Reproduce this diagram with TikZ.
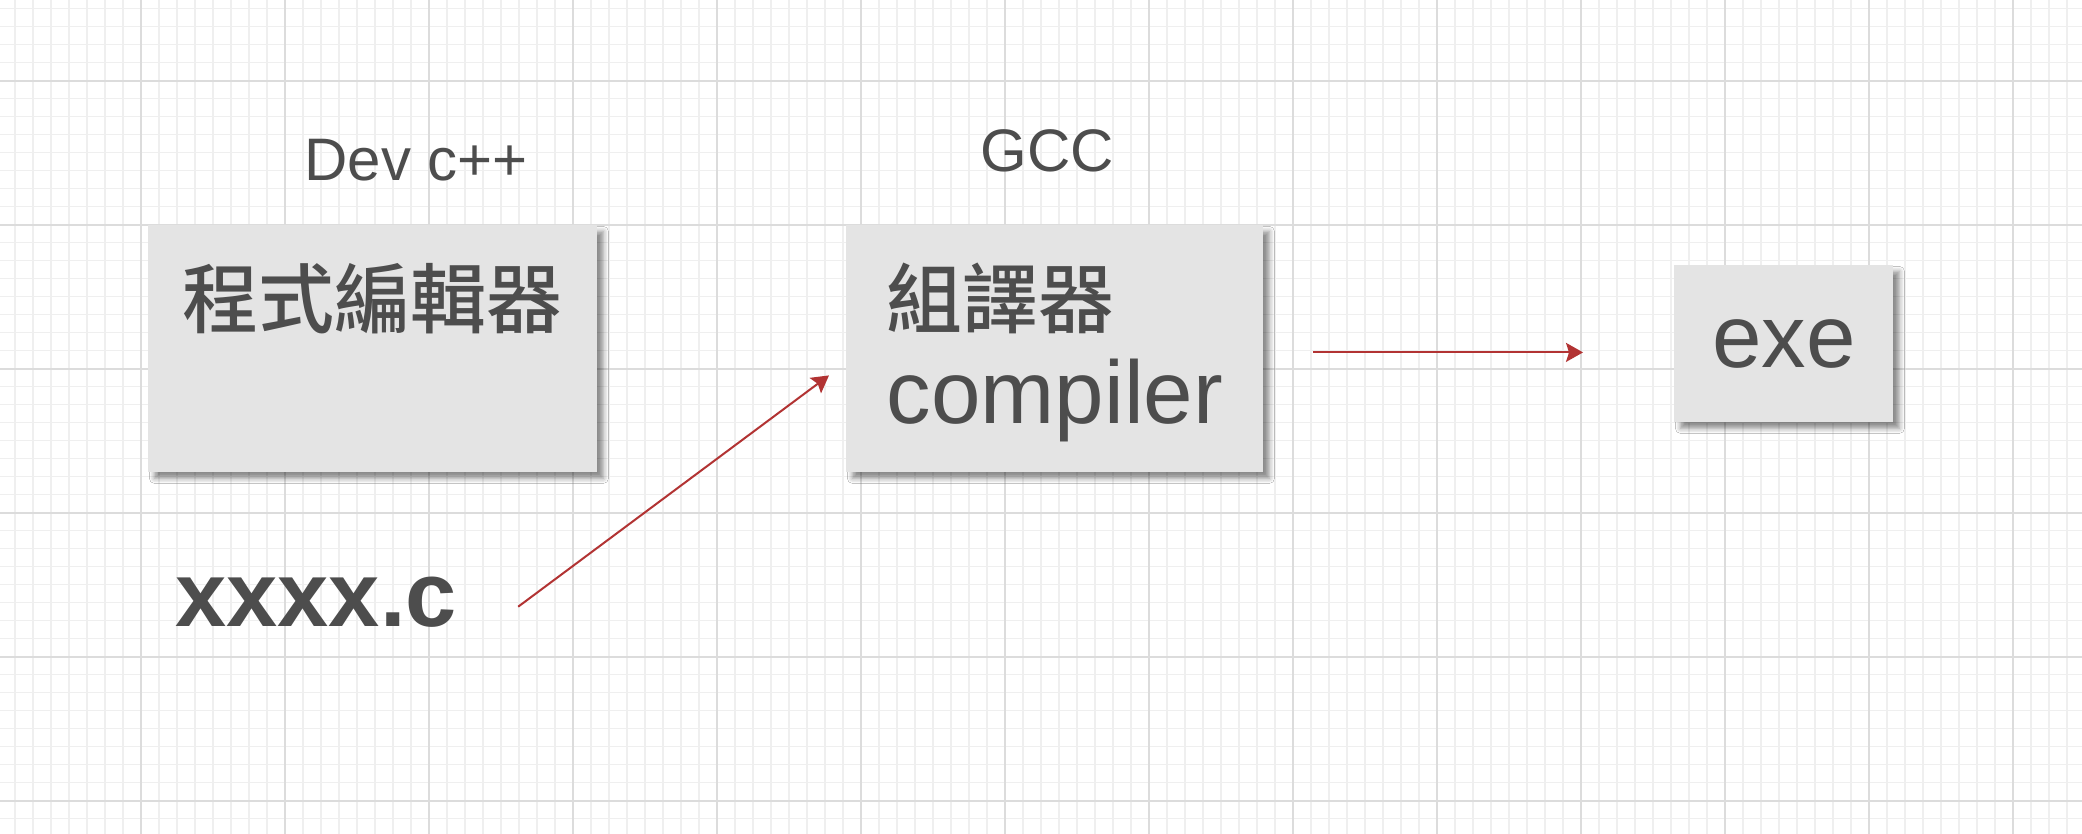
\documentclass[tikz,border=0pt]{standalone}
\usepackage{fontspec}
\setmainfont{Liberation Sans}
\newfontfamily\cjk{Noto Sans CJK TC Medium}
\usetikzlibrary{arrows.meta,shadows.blur}
\definecolor{boxgray}{HTML}{E4E4E4}
\definecolor{ink}{HTML}{4D4D4D}
\definecolor{arrowred}{HTML}{B23333}
\definecolor{gridminor}{HTML}{EFEFEF}
\definecolor{gridmajor}{HTML}{DCDCDC}

\begin{document}
\begin{tikzpicture}[x=0.5pt, y=-0.5pt,
  box/.style={rectangle, fill=boxgray, text=ink, inner xsep=17pt, inner ysep=0pt,
    blur shadow={shadow xshift=3pt, shadow yshift=-3pt, shadow blur radius=2.5pt, shadow opacity=45}},
  tag/.style={inner sep=0pt, anchor=base west, text=ink},
  flow/.style={draw=arrowred, line width=1pt, -{Stealth[length=8.5pt, width=9.5pt, inset=1.5pt]}}]

  % Page and grid paper behind everything
  \useasboundingbox (0,0) rectangle (2082,834);
  \fill[white] (0,0) rectangle (2082,834);
  \foreach \i in {-7,...,107}
    \draw[gridminor, line width=0.75pt] (141+18*\i,0) -- (141+18*\i,834);
  \foreach \j in {-4,...,41}
    \draw[gridminor, line width=0.75pt] (0,80.7+18*\j) -- (2082,80.7+18*\j);
  \foreach \i in {0,...,13}
    \draw[gridmajor, line width=1pt] (141+144*\i,0) -- (141+144*\i,834);
  \foreach \j in {0,...,5}
    \draw[gridmajor, line width=1pt] (0,80.7+144*\j) -- (2082,80.7+144*\j);

  % Grey boxes for the editor, the compiler and the program
  \node[box, anchor=north west, align=left, minimum width=224.5pt, minimum height=123.5pt,
    font=\fontsize{44.5}{48.25}\selectfont] (Editor) at (148,225)
    {\rule{0pt}{36pt}{\cjk\fontsize{38}{40}\selectfont 程式編輯器}\\\vphantom{compiler}};
  \node[box, anchor=north west, align=left, minimum width=208.5pt, minimum height=123.5pt,
    font=\fontsize{44.5}{48.25}\selectfont] (Compiler) at (846,225)
    {\rule{0pt}{36pt}{\cjk\fontsize{38}{40}\selectfont 組譯器}\\compiler};
  \node[box, anchor=north west, minimum width=109.5pt, minimum height=78.5pt,
    font=\fontsize{44.5}{48.25}\selectfont] (Exe) at (1674,265) {\raisebox{-1.5pt}{exe}};

  % Plain labels
  \node[tag, font=\fontsize{30}{32}\selectfont] (DevCpp) at (304,181) {Dev c++};
  \node[tag, font=\fontsize{30}{32}\selectfont] (Gcc) at (980,172) {GCC};
  \node[tag, font=\bfseries\fontsize{46}{50}\selectfont] (Source) at (175,626) {xxxx.c};

  % Red arrows
  \draw[flow] ([shift={(61,5)}]Source.east) -- ([shift={(-17,26.5)}]Compiler.west);
  \draw[flow] ([shift={(49,3.5)}]Compiler.east) -- ([shift={(-91,8.5)}]Exe.west);

\end{tikzpicture}
\end{document}
